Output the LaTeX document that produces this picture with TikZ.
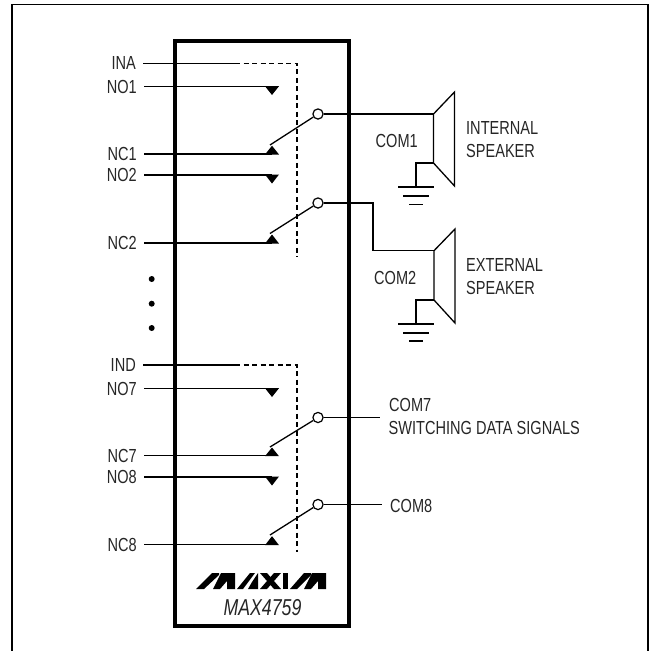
\documentclass[tikz,border=0pt]{standalone}
\usepackage{fontspec}
\setmainfont{Liberation Sans}[FakeStretch=0.77]
\tikzset{
  wire/.style={draw,line width=1.3pt},
  ctrl/.style={draw,line width=1.2pt,dash pattern=on 5pt off 3.5pt},
  thin wire/.style={draw,line width=1.3pt},
  pin/.style={font=\fontsize{18.9}{19}\selectfont,text=black!85,text height=13pt,text depth=0pt,inner ysep=0pt,inner xsep=0pt},
  pinlabel/.style={pin,inner xsep=7pt,anchor=east},
  lab/.style={pin,anchor=west},
  common/.style={draw,circle,fill=white,line width=1.2pt,minimum size=10.2pt,inner sep=0pt},
}
\begin{document}
\begin{tikzpicture}[x=1pt,y=-1pt]
\useasboundingbox (0,0) rectangle (650,651);
% frame
\coordinate (fa) at (12,651);
\coordinate (fb) at (12,4.5);
\coordinate (fc) at (648,4.5);
\coordinate (fd) at (648,651);
\path[draw,line width=1.8pt] (fa) -- (fb) -- (fc) -- (fd);
% package
\coordinate (chipa) at (175,41);
\coordinate (chipb) at (349,626);
\path[draw,line width=3.6pt] (chipa) rectangle (chipb);
% first group
\node[pinlabel] (ina) at (143,63.3) {INA};
\node[pinlabel] (no1) at (144,86.7) {NO1};
\node[pinlabel] (nc1) at (144,154) {NC1};
\node[pinlabel] (no2) at (144,175) {NO2};
\node[pinlabel] (nc2) at (144,243) {NC2};
\coordinate (ctla) at (235,63.3);
\coordinate (ctlb) at (297,63.3);
\coordinate (ctlc) at (297,257);
\coordinate (cno1) at (272,86.7);
\coordinate (cnc1) at (272,154);
\coordinate (cno2) at (272,175);
\coordinate (cnc2) at (272,243);
\coordinate (arm1) at (270,145);
\coordinate (arm2) at (270,233.5);
\node[common] (com1) at (318,114) {};
\node[common] (com2) at (318,203) {};
\path[wire] (ina.east) -- (ctla);
\path[ctrl] (ctla) -- (ctlb) -- (ctlc);
\path[wire] (no1.east) -- (cno1);
\path[wire] (nc1.east) -- (cnc1);
\path[wire] (no2.east) -- (cno2);
\path[wire] (nc2.east) -- (cnc2);
\path[wire] (arm1) -- (com1);
\path[wire] (arm2) -- (com2);
\path[fill] (265,86.2) -- (279,86.2) -- (272,95) -- cycle;
\path[fill] (265,154.5) -- (279,154.5) -- (272,145.7) -- cycle;
\path[fill] (265,174.5) -- (279,174.5) -- (272,183.5) -- cycle;
\path[fill] (265,243.5) -- (279,243.5) -- (272,234.5) -- cycle;
% dots
\node[circle,fill,inner sep=0pt,minimum size=6pt] (dota) at (151.7,279) {};
\node[circle,fill,inner sep=0pt,minimum size=6pt] (dotb) at (151.7,303.7) {};
\node[circle,fill,inner sep=0pt,minimum size=6pt] (dotc) at (151.7,328) {};
% second group
\node[pinlabel] (ind) at (143,365) {IND};
\node[pinlabel] (no7) at (144,388.7) {NO7};
\node[pinlabel] (nc7) at (144,455.7) {NC7};
\node[pinlabel] (no8) at (144,477) {NO8};
\node[pinlabel] (nc8) at (144,544.7) {NC8};
\coordinate (ctld) at (235,365);
\coordinate (ctle) at (297,365);
\coordinate (ctlf) at (297,552);
\coordinate (cno7) at (272,388.7);
\coordinate (cnc7) at (272,455.7);
\coordinate (cno8) at (272,477);
\coordinate (cnc8) at (272,544.7);
\coordinate (arm7) at (270,447);
\coordinate (arm8) at (270,535);
\node[common] (com7) at (318,417.5) {};
\node[common] (com8) at (318,504.5) {};
\path[wire] (ind.east) -- (ctld);
\path[ctrl] (ctld) -- (ctle) -- (ctlf);
\path[wire] (no7.east) -- (cno7);
\path[wire] (nc7.east) -- (cnc7);
\path[wire] (no8.east) -- (cno8);
\path[wire] (nc8.east) -- (cnc8);
\path[wire] (arm7) -- (com7);
\path[wire] (arm8) -- (com8);
\path[fill] (265,388.2) -- (279,388.2) -- (272,397) -- cycle;
\path[fill] (265,456.2) -- (279,456.2) -- (272,447.5) -- cycle;
\path[fill] (265,476.5) -- (279,476.5) -- (272,485.5) -- cycle;
\path[fill] (265,545.2) -- (279,545.2) -- (272,536.2) -- cycle;
% speakers
\coordinate (spka) at (433.5,114);
\coordinate (spkb) at (433.5,163);
\coordinate (spkc) at (454.5,92);
\coordinate (spkd) at (454.5,186);
\coordinate (gnda) at (416,163);
\coordinate (gndb) at (416,187);
\path[thin wire] (com1) -- (spka);
\path[thin wire,line join=miter] (spka) -- (spkc) -- (spkd) -- (spkb) -- cycle;
\path[thin wire] (spkb) -- (gnda) -- (gndb);
\path[thin wire] (398,187) -- (433.5,187);
\path[thin wire] (403,196) -- (429,196);
\path[thin wire] (409,204.5) -- (423,204.5);
\coordinate (spke) at (434,250.7);
\coordinate (spkf) at (434,300);
\coordinate (spkg) at (455,229);
\coordinate (spkh) at (455,323);
\coordinate (benda) at (373,203);
\coordinate (bendb) at (373,250.7);
\coordinate (gndc) at (416,300);
\coordinate (gndd) at (416,324);
\path[thin wire] (com2) -- (benda) -- (bendb) -- (spke);
\path[thin wire,line join=miter] (spke) -- (spkg) -- (spkh) -- (spkf) -- cycle;
\path[thin wire] (spkf) -- (gndc) -- (gndd);
\path[thin wire] (398,324) -- (434,324);
\path[thin wire] (403,333) -- (429,333);
\path[thin wire] (409,341) -- (423,341);
\coordinate (ena) at (380,417.5);
\coordinate (enb) at (381.7,504.5);
\path[thin wire] (com7) -- (ena);
\path[thin wire] (com8) -- (enb);
% labels
\node[lab] (lcom1) at (375.5,141) {COM1};
\node[lab] (lcom2) at (374,278) {COM2};
\node[lab] (lint) at (466,127.7) {INTERNAL};
\node[lab] (lspka) at (466,150.7) {SPEAKER};
\node[lab] (lext) at (466,265) {EXTERNAL};
\node[lab] (lspkb) at (466,287.7) {SPEAKER};
\node[lab] (lcom7) at (389,405) {COM7};
\node[lab] (lsw) at (388.5,427.7) {SWITCHING DATA SIGNALS};
\node[lab] (lcom8) at (390,506) {COM8};
% logo
\path[fill] (196,589) -- (204,589) -- (219,575) -- (219,573) -- (212,573) -- cycle;
\path[fill] (221,573) -- (235,573) -- (235,589) -- (227,589) -- (227,581) -- (220,589) -- (213,589) -- cycle;
\path[fill] (237,589) -- (243,589) -- (255,573) -- (250,573) -- cycle;
\path[fill] (258,573) -- (258,589) -- (248,589) -- (252,582) -- cycle;
\path[fill] (260,573) -- (267,573) -- (281,589) -- (274,589) -- cycle;
\path[fill] (274,573) -- (281,573) -- (267,589) -- (260,589) -- cycle;
\path[fill] (282.5,573) -- (288,573) -- (288,589) -- (282.5,589) -- cycle;
\path[fill] (290,589) -- (297,589) -- (311,575) -- (311,573) -- (304,573) -- cycle;
\path[fill] (312,573) -- (326,573) -- (326,589) -- (318,589) -- (318,581) -- (311,589) -- (304,589) -- cycle;
\node[pin,font=\fontsize{23}{24}\selectfont\itshape,text height=16.5pt] (part) at (262.5,607) {MAX4759};
\end{tikzpicture}
\end{document}
